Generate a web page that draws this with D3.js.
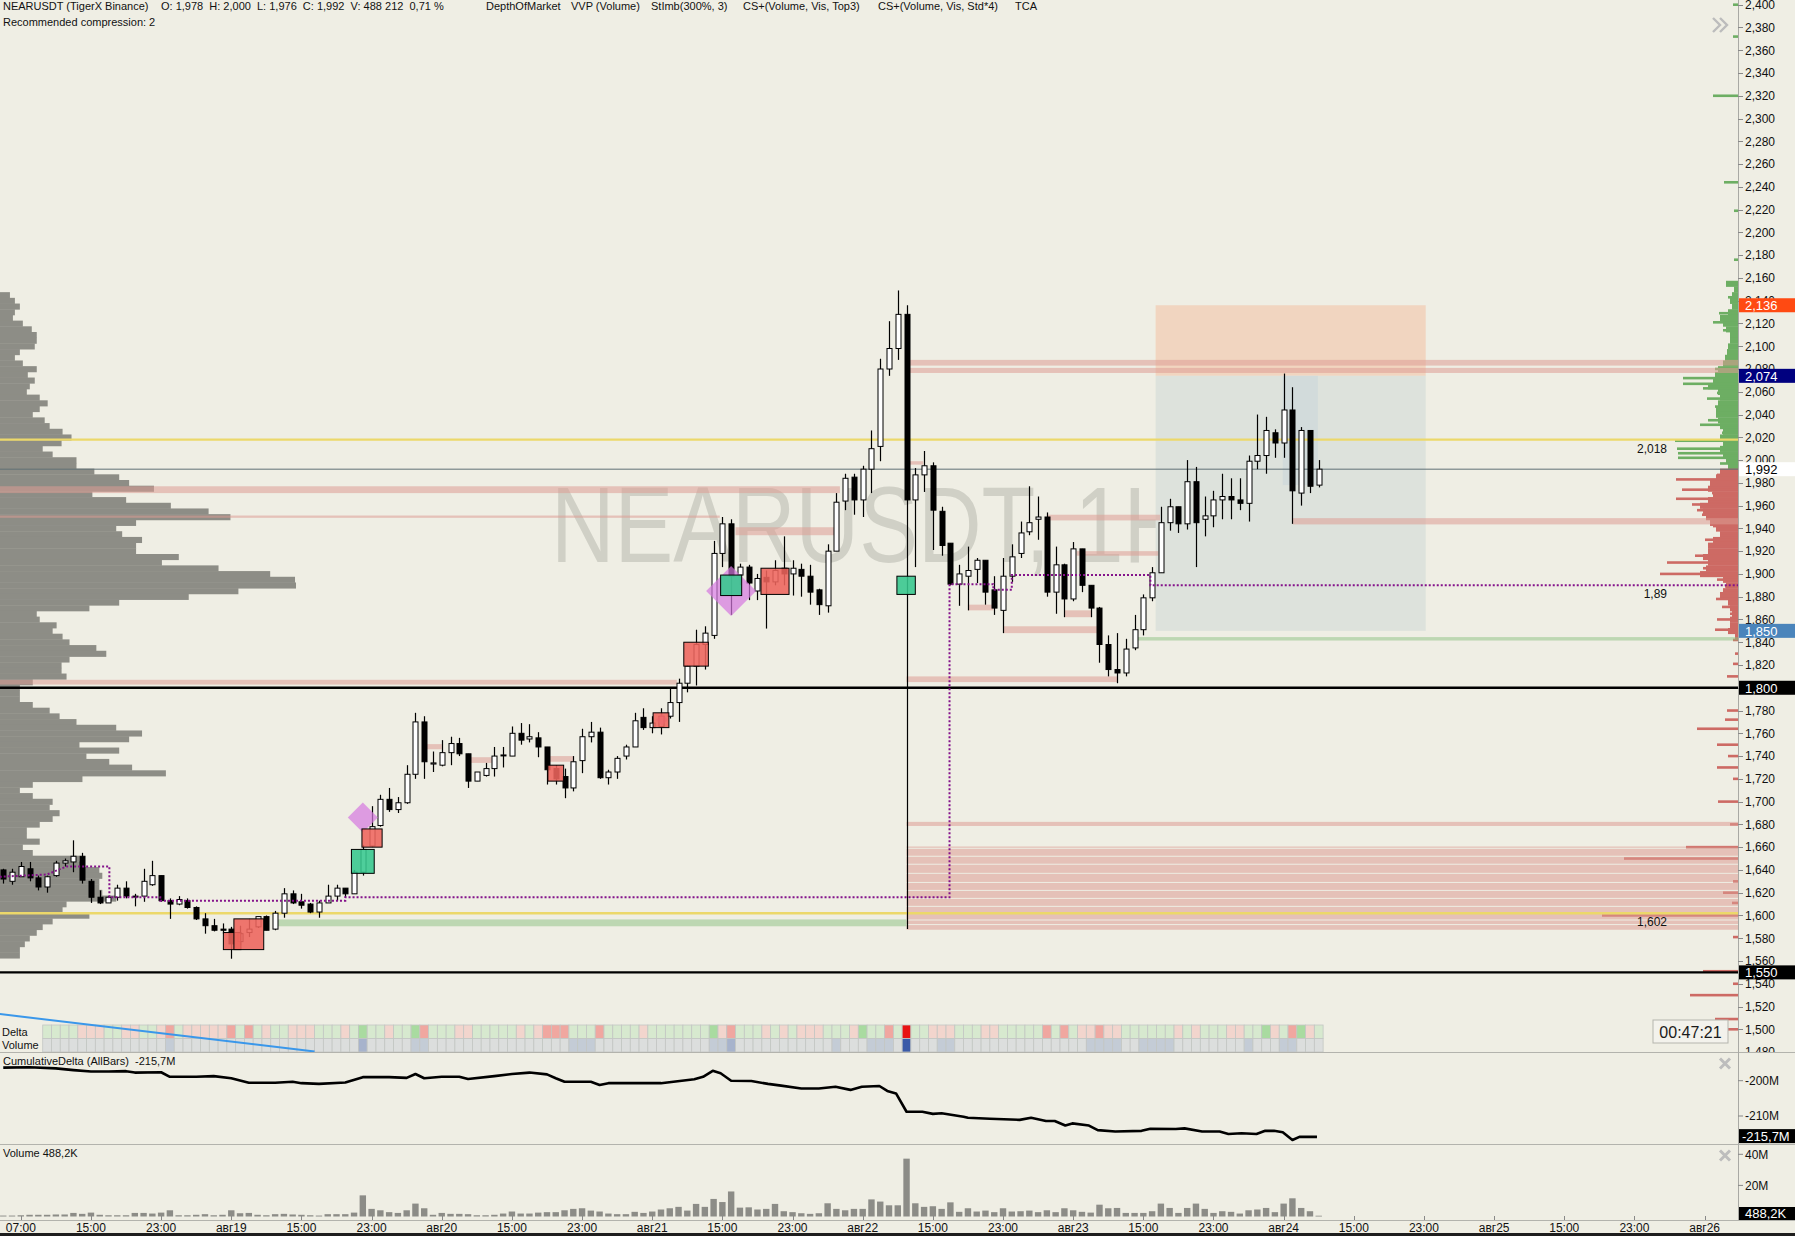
<!DOCTYPE html>
<html>
<head>
<meta charset="utf-8">
<title>NEARUSDT 1H</title>
<script src="https://cdn.jsdelivr.net/npm/d3@7/dist/d3.min.js"></script>
<style>
  html, body { margin: 0; padding: 0; background: #efeee4; overflow: hidden; }
  svg { display: block; font-family: "Liberation Sans", Arial, sans-serif; }
</style>
</head>
<body>
<div id="chart"></div>
<script>
// ---------------- data ----------------
// bar 0 = the "07:00" label of the first day, one bar per hour
var firstBar = -2;
var opens = [1.640,1.630,1.634,1.641,1.633,1.625,1.635,1.646,1.647,1.652,
  1.630,1.616,1.611,1.616,1.624,1.617,1.617,1.627,1.635,1.613,
  1.610,1.613,1.607,1.597,1.591,1.588,1.588,1.577,1.585,1.590,
  1.599,1.588,1.602,1.619,1.612,1.610,1.603,1.611,1.617,1.624,
  1.619,1.638,1.661,1.679,1.702,1.693,1.699,1.724,1.770,1.733,
  1.732,1.743,1.751,1.742,1.718,1.723,1.729,1.741,1.740,1.760,
  1.755,1.756,1.748,1.729,1.722,1.712,1.736,1.757,1.761,1.721,
  1.726,1.740,1.748,1.774,1.765,1.766,1.775,1.787,1.804,1.819,
  1.838,1.846,1.918,1.944,1.899,1.906,1.885,1.897,1.893,1.905,
  1.900,1.904,1.898,1.886,1.872,1.920,1.964,1.985,1.965,1.992,
  2.012,2.080,2.098,2.128,1.965,1.987,1.995,1.955,1.927,1.891,
  1.898,1.904,1.912,1.886,1.868,1.898,1.918,1.937,1.948,1.950,
  1.884,1.908,1.878,1.922,1.890,1.870,1.838,1.816,1.813,1.835,
  1.851,1.879,1.901,1.945,1.959,1.944,1.981,1.948,1.951,1.965,
  1.968,1.965,1.962,1.999,2.004,2.024,2.015,2.044,1.971,2.026,
  1.978];
var highs = [1.641,1.641,1.647,1.647,1.635,1.635,1.648,1.650,1.666,1.655,
  1.632,1.622,1.617,1.627,1.630,1.619,1.641,1.648,1.635,1.615,
  1.617,1.615,1.608,1.602,1.597,1.593,1.590,1.591,1.597,1.599,
  1.600,1.604,1.624,1.622,1.619,1.611,1.613,1.627,1.627,1.624,
  1.640,1.662,1.696,1.706,1.712,1.704,1.732,1.778,1.775,1.744,
  1.754,1.757,1.756,1.742,1.726,1.734,1.748,1.748,1.766,1.769,
  1.768,1.761,1.748,1.732,1.729,1.740,1.764,1.770,1.765,1.728,
  1.740,1.750,1.778,1.782,1.775,1.782,1.800,1.808,1.820,1.851,
  1.854,1.929,1.950,1.948,1.909,1.908,1.900,1.903,1.912,1.933,
  1.912,1.909,1.908,1.887,1.926,1.971,1.988,1.988,1.995,2.026,
  2.089,2.122,2.149,2.136,1.993,2.008,1.998,1.959,1.927,1.908,
  1.924,1.914,1.912,1.898,1.914,1.926,1.946,1.977,1.968,1.954,
  1.924,1.909,1.928,1.922,1.890,1.871,1.846,1.848,1.843,1.864,
  1.882,1.906,1.959,1.966,1.959,2.000,1.994,1.968,1.973,1.988,
  1.984,1.984,2.004,2.040,2.038,2.027,2.076,2.064,2.029,2.026,
  2.000];
var lows = [1.628,1.627,1.634,1.630,1.622,1.620,1.634,1.643,1.638,1.628,
  1.611,1.610,1.611,1.613,1.615,1.608,1.612,1.626,1.612,1.597,
  1.609,1.606,1.596,1.584,1.586,1.584,1.562,1.574,1.581,1.589,
  1.587,1.587,1.598,1.610,1.606,1.602,1.598,1.611,1.613,1.616,
  1.619,1.635,1.660,1.678,1.691,1.690,1.698,1.720,1.720,1.726,
  1.731,1.732,1.740,1.712,1.718,1.722,1.722,1.730,1.740,1.750,
  1.752,1.739,1.715,1.715,1.703,1.709,1.725,1.752,1.720,1.715,
  1.720,1.737,1.748,1.763,1.760,1.759,1.773,1.770,1.796,1.802,
  1.816,1.843,1.906,1.864,1.890,1.877,1.877,1.852,1.890,1.890,
  1.881,1.880,1.873,1.864,1.866,1.920,1.956,1.952,1.950,1.971,
  1.999,2.074,2.088,1.588,1.906,1.972,1.921,1.916,1.890,1.872,
  1.868,1.892,1.873,1.864,1.848,1.893,1.914,1.934,1.930,1.880,
  1.865,1.862,1.876,1.884,1.862,1.822,1.810,1.804,1.810,1.833,
  1.846,1.876,1.901,1.938,1.936,1.939,1.906,1.933,1.941,1.948,
  1.948,1.956,1.946,1.992,1.988,2.002,2.002,1.944,1.960,1.971,
  1.976];
var closes = [1.632,1.638,1.643,1.633,1.625,1.634,1.646,1.648,1.652,1.631,
  1.616,1.611,1.616,1.624,1.617,1.617,1.630,1.635,1.613,1.610,
  1.614,1.607,1.597,1.591,1.587,1.587,1.575,1.584,1.588,1.599,
  1.587,1.602,1.619,1.611,1.609,1.603,1.611,1.617,1.624,1.619,
  1.638,1.658,1.678,1.702,1.693,1.699,1.724,1.770,1.735,1.734,
  1.743,1.751,1.742,1.718,1.726,1.729,1.740,1.741,1.760,1.754,
  1.757,1.748,1.728,1.720,1.712,1.735,1.757,1.761,1.721,1.726,
  1.738,1.748,1.771,1.765,1.769,1.775,1.787,1.804,1.819,1.838,
  1.848,1.918,1.944,1.898,1.906,1.892,1.896,1.893,1.903,1.900,
  1.905,1.898,1.884,1.873,1.920,1.963,1.984,1.965,1.992,2.010,
  2.080,2.098,2.128,1.965,1.987,1.995,1.956,1.925,1.891,1.900,
  1.903,1.912,1.884,1.870,1.898,1.915,1.936,1.945,1.950,1.884,
  1.908,1.878,1.922,1.890,1.870,1.838,1.816,1.813,1.834,1.851,
  1.879,1.901,1.945,1.959,1.944,1.981,1.945,1.951,1.965,1.968,
  1.965,1.962,1.999,2.004,2.026,2.015,2.044,1.973,2.026,1.977,
  1.992];
// volume per bar, millions
var volumes = [0.6,0.6,0.8,1.1,1.1,1.1,1.3,1.3,2.3,1.7,
  2.5,1.1,0.8,0.8,0.8,2.3,2.3,1.9,2.5,4.0,
  0.8,0.8,1.1,1.5,0.8,1.1,4.0,2.1,2.3,1.1,
  0.8,1.5,1.7,1.3,1.1,0.8,0.6,1.5,1.5,1.5,
  2.5,13.6,4.9,4.0,2.8,2.3,4.0,8.3,5.3,1.1,
  2.3,1.7,1.7,1.5,0.8,0.8,1.1,1.9,3.2,1.9,
  1.9,2.5,2.8,2.8,4.0,4.9,5.3,3.8,3.2,1.9,
  1.5,1.5,3.0,2.3,3.2,4.5,5.3,6.2,3.8,8.1,
  6.2,11.3,9.3,16.1,5.7,5.9,4.5,4.9,8.1,3.4,
  2.8,2.1,1.7,2.1,8.5,4.9,4.0,4.9,4.9,11.0,
  9.6,7.2,7.2,37.2,8.5,6.2,6.6,4.9,9.1,3.0,
  5.3,3.2,3.8,2.8,5.3,3.2,3.4,3.8,2.8,4.0,
  2.8,5.3,4.0,3.0,2.5,7.6,5.3,5.5,2.3,2.3,
  2.3,3.4,8.3,5.5,2.3,5.5,8.3,4.9,2.3,3.4,
  3.0,1.9,4.0,4.5,5.5,2.8,8.3,11.7,5.5,3.4,
  0.5];

// Delta / Volume heat rows, one letter per bar starting at gridFirstBar
var gridFirstBar = 3;
var deltaCodes = "ggggrrrggr" + "rggrRgrrrr" + "rRgRgrggrr" + "rgggrgGggr" + "ggGRgggrrg" +
  "ggggrgrRRR" + "gggRggggrg" + "ggggggGrRg" + "ggrgrgrrrg" + "ggrGggRgXg" +
  "grrrgggrrg" + "ggggRgRgrr" + "Rrrggggggr" + "grgggrrggG" + "rgRGrg";
var volumeCodes = "nnnnnnnnnn" + "nnnnbnnnnn" + "nnnnnnnnnn" + "nnnnnnBnnn" + "nnbbnnnnnn" +
  "nnnnnnnnnn" + "bbbnnnnnnn" + "nnnnnnbbBn" + "nnnnnnnnnn" + "bnnnbbbnDn" +
  "nnbbnnnnnn" + "nnnnnnnnnb" + "bbbnnbbbbn" + "nnnnnnnbnn" + "nbbnnn";

// cumulative delta (millions), read at these bar positions
var cdBars = [-2,1,4,6,8,10,12,13,16,17,20,22,24,26,29,31,32,34,37,39,
  42,44,45,46,48,50,51,54,56,58,60,61,62,65,66,67,70,
  73,76.8,77.8,78.9,79.8,81,83.3,85.2,86.7,89,91,92.9,94.6,95.9,97.9,98.8,99.8,101,102.8,104,
  105,107.5,108,110.5,113.9,115.2,116.9,117.9,119.1,119.9,121.8,122.8,124.8,127.8,128.8,131.7,132.7,134.7,136.7,137.7,
  139.2,140.9,141.9,142.9,143.9,145,145.8,147.8];
var cdValues = [-196.3,-196.2,-196.5,-197.0,-197.4,-197.4,-197.3,-197.7,-197.6,-198.9,
  -198.9,-198.7,-199.3,-200.6,-200.6,-200.3,-200.7,-200.9,-200.5,-199.0,
  -199.0,-199.2,-198.1,-199.3,-198.9,-198.9,-199.5,-198.7,-198.1,-197.7,
  -198.2,-199.3,-200.3,-200.3,-201.2,-200.7,-200.7,
  -200.7,-199.6,-198.9,-197.2,-197.9,-200.0,-200.1,-200.9,-201.4,-202.2,
  -202.2,-201.7,-202.6,-201.7,-201.5,-202.9,-203.6,-208.8,-208.8,-209.4,
  -209.2,-210.2,-210.5,-210.8,-211.1,-210.5,-211.4,-211.4,-212.7,-212.1,
  -212.7,-214.0,-214.4,-214.2,-213.6,-213.7,-213.5,-214.4,-214.4,-215.1,
  -214.9,-215.1,-214.2,-214.2,-214.6,-216.8,-215.9,-215.9];

// VVP volume profile on the left, rows from profileTop down by profileStep
var profileTop = 2.145, profileStep = 0.005;
var profileVolumes = [10,15,20,15,13,23,32,37,37,35, 20,15,23,37,28,35,30,27,40,48,
  40,33,45,50,63,72,62,43,53,77, 77,95,120,130,155,93,127,172,210,232,
  137,117,123,143,137,137,180,163,220,272, 297,298,240,190,120,90,37,40,57,53,
  63,70,97,107,70,62,62,67,33,20, 20,20,33,50,60,77,117,143,130,80,
  120,87,110,133,167,83,33,20,33,53, 50,60,53,40,27,27,40,23,33,80,
  83,100,103,100,100,103,117,67,63,90, 53,43,37,30,25,20,20];

// depth of market on the right: dense body + single big orders
var domBaseTop = 2.155;
var domBaseSizes = [12,4,6,8,6,10,18,15,12,8, 8,10,11,13,15,20,23,25,30,20,
  18,20,22,22,20,18,15,18,15,18, 15,12,10,
  18,22,28,30,25,30,38, 35,32,28,22,18,25,30,30,35,30,
  32,38,15,12,15,18,10,8,6,8, 8,10,3];
var domPrices = [2.400,2.372,2.320,2.244,2.219,2.176,2.155,2.143,2.129,2.121,2.114,2.088,2.080,2.072,
  2.067,2.063,2.059,2.054,2.047,2.041,2.035,2.031,2.024,2.017,2.010,2.006,2.002,1.997,
  1.987,1.983,1.976,1.974,1.971,1.966,1.961,1.956,1.952,1.947,1.942,1.936,1.930,1.924,1.916,1.910,
  1.905,1.900,1.895,1.889,1.883,1.878,1.871,1.865,1.860,1.851,1.842,1.830,1.821,1.810,1.780,1.772,
  1.764,1.750,1.740,1.730,1.720,1.700,1.680,1.660,1.650,1.630,1.620,1.611,1.600,1.581,1.551,1.540,
  1.530,1.509,1.500];
var domSizes = [5,5,25,14,4,4,12,10,19,25,15,13,23,55,
  55,35,21,31,23,18,30,38,16,63,61,60,60,18,
  21,62,28,56,26,62,46,41,36,28,25,18,33,28,43,71,
  35,78,21,13,18,22,16,8,21,23,5,3,5,11,11,13,
  41,21,10,21,5,20,8,52,114,5,15,6,136,5,35,5,
  48,23,10];

// cluster search levels (pink) and green levels: price span and bar span
var pinkHi   = [2.088,2.081,1.977,1.9513,1.941,1.807,1.7505,1.739,1.740,1.952,1.920,1.873,1.868,1.854,1.810,1.999,1.949,1.6822];
var pinkLo   = [2.083,2.0765,1.971,1.9493,1.934,1.8028,1.746,1.734,1.735,1.947,1.916,1.868,1.862,1.848,1.805,1.996,1.9435,1.6786];
var pinkFrom = [101,101,-3,-3,81.5,-3,46.1,51.2,60.3,117,120.4,108,119,112,101,101,145,101];
var pinkTo   = [200,200,93.4,79.7,92.8,74.8,48,53.7,63,129.9,129.7,110.9,122.1,122.7,125,102.9,200,200];
var blockEdges = [1.661,1.659,1.652,1.645,1.637,1.629,1.622,1.615,1.608,1.602,1.596,1.592,1.587];
var blockFrom = 101;
var greenHi = [1.5965,1.8445], greenLo = [1.5905,1.8415], greenFrom = [29.2,127.2], greenTo = [101,200];

var lastPrice = 1.992;
var yellowLevels = [2.018, 1.602];
var blackLevels = [1.800, 1.550];

// trade tool: stop / entry / target
var tcaStartBar = 129.4, tcaEndBar = 160.2;
var tcaStop = 2.136, tcaEntry = 2.074, tcaTarget = 1.850;
var tcaFillBar0 = 143.9, tcaFillBar1 = 147.9, tcaFillLow = 1.978;

// dotted step line (TCA average)
var stepBars   = [-2.4,3,5.2,10.1,10.1,15.9,15.9,37,37,105.9,105.9,110.9,110.9,113,113,128.8,128.8,200];
var stepPrices = [1.634,1.636,1.643,1.643,1.616,1.616,1.613,1.613,1.616,1.616,1.891,1.891,1.886,1.886,1.899,1.899,1.890,1.890];

// stacked imbalance boxes
var boxFrom = [23.1,24.3,37.7,38.9,60.1,72.1,75.6,79.8,84.4,99.9];
var boxTo   = [25.1,27.7,40.3,41.2,61.9,73.9,78.4,82.2,87.6,102.0];
var boxLow  = [1.570,1.570,1.637,1.660,1.718,1.765,1.819,1.881,1.882,1.882];
var boxHigh = [1.585,1.597,1.658,1.676,1.732,1.778,1.840,1.899,1.905,1.898];
var boxSide = ["sell","sell","buy","sell","sell","sell","sell","buy","sell","buy"];
var diamondBars = [39.0,81.0,73.1], diamondPrices = [1.686,1.885,1.772], diamondVolume = [150,250,60];

// hand drawn trend line
var trendBars = [-2.4, 33.5], trendPrices = [1.5134, 1.4805];

var levelTexts = [["2,018", 2.018], ["1,89", 1.890], ["1,602", 1.602]];
var badges = [[2.136,"#ff4a12","#ffffff"],[2.074,"#00007f","#ffffff"],[1.992,"#ffffff","#000000"],
  [1.850,"#4a84bb","#ffffff"],[1.800,"#000000","#ffffff"],[1.550,"#000000","#ffffff"]];

var timeLabels = ["07:00","15:00","23:00","авг19","15:00","23:00","авг20","15:00","23:00","авг21",
  "15:00","23:00","авг22","15:00","23:00","авг23","15:00","23:00","авг24","15:00","23:00","авг25",
  "15:00","23:00","авг26"];
var labelEvery = 8;
var cdTicks = [-200, -210], volTicks = [20, 40];

// ---------------- layout ----------------
var width = 1795, height = 1236;
var axisX = 1738;
var mainBottom = 1052, cdBottom = 1144, volBottom = 1220;

var x = d3.scaleLinear().domain([0, 192]).range([20.8, 1704.6]);
var y = d3.scaleLinear().domain([2.4, 1.5]).range([4.7, 1029.3]);
var yCd = d3.scaleLinear().domain([-200, -210]).range([1080.7, 1116]);
var yVol = d3.scaleLinear().domain([0, 40]).range([1216.5, 1154.3]);
var wProf = d3.scaleLinear().domain([0, 300]).range([0, 298]);
var wDom = d3.scaleLinear().domain([0, 100]).range([0, 100]);
var rDiamond = d3.scaleLinear().domain([0, 250]).range([0, 25]);
var fmt = function (v) { return d3.format(".3f")(v).replace(".", ","); };
var barW = x(1) - x(0);

var bars = opens.map(function (o, k) {
  return { i: firstBar + k, o: o, h: highs[k], l: lows[k], c: closes[k], v: volumes[k] };
});

var svg = d3.select("#chart").append("svg").attr("width", width).attr("height", height);
svg.append("rect").attr("width", width).attr("height", height).attr("fill", "#efeee4");

var defs = svg.append("defs");
function clip(id, x0, y0, w, h) {
  defs.append("clipPath").attr("id", id).append("rect")
    .attr("x", x0).attr("y", y0).attr("width", w).attr("height", h);
}
clip("clipMain", 0, 0, axisX, mainBottom);
clip("clipCd", 0, mainBottom, axisX, cdBottom - mainBottom);
clip("clipVol", 0, cdBottom, axisX, volBottom - cdBottom);
clip("clipAxis", axisX, 0, width - axisX, mainBottom);

var main = svg.append("g").attr("clip-path", "url(#clipMain)");

// watermark
main.append("text").attr("x", 551).attr("y", 562)
  .attr("textLength", 636).attr("lengthAdjust", "spacingAndGlyphs")
  .attr("font-size", 107).attr("fill", "#d0d0c6").text("NEARUSDT, 1H");

// trade tool rectangles
main.append("rect").attr("x", x(tcaStartBar)).attr("width", x(tcaEndBar) - x(tcaStartBar))
  .attr("y", y(tcaStop)).attr("height", y(tcaEntry) - y(tcaStop)).attr("fill", "#f1d5c0");
main.append("rect").attr("x", x(tcaStartBar)).attr("width", x(tcaEndBar) - x(tcaStartBar))
  .attr("y", y(tcaEntry)).attr("height", y(tcaTarget) - y(tcaEntry)).attr("fill", "#dde2dc");
main.append("rect").attr("x", x(tcaFillBar0)).attr("width", x(tcaFillBar1) - x(tcaFillBar0))
  .attr("y", y(tcaEntry)).attr("height", y(tcaFillLow) - y(tcaEntry)).attr("fill", "#d2dbdb");

// left volume profile
var rowH = y(2.4 - profileStep) - y(2.4);
main.selectAll(".prof").data(profileVolumes).enter().append("rect")
  .attr("x", 0)
  .attr("y", function (v, k) { return y(profileTop - k * profileStep + profileStep / 2); })
  .attr("width", function (v) { return wProf(v); })
  .attr("height", rowH + 0.4)
  .attr("fill", "#8d8d86");

// depth of market
main.selectAll(".dombase").data(domBaseSizes).enter().append("rect")
  .attr("x", function (v) { return axisX - wDom(v); })
  .attr("y", function (v, k) { return y(domBaseTop - k * profileStep + profileStep / 2); })
  .attr("width", function (v) { return wDom(v); })
  .attr("height", rowH + 0.4)
  .attr("fill", function (v, k) { return domBaseTop - k * profileStep > lastPrice ? "#6dae63" : "#cd6a64"; });
main.selectAll(".dom").data(domPrices).enter().append("rect")
  .attr("x", function (p, k) { return axisX - wDom(domSizes[k]); })
  .attr("y", function (p) { return y(p) - 1.3; })
  .attr("width", function (p, k) { return wDom(domSizes[k]); })
  .attr("height", 2.6)
  .attr("fill", function (p) { return p > lastPrice ? "#6dae63" : "#cd6a64"; });

// cluster levels
main.selectAll(".pink").data(pinkHi).enter().append("rect")
  .attr("x", function (p, k) { return x(pinkFrom[k]); })
  .attr("width", function (p, k) { return x(pinkTo[k]) - x(pinkFrom[k]); })
  .attr("y", function (p) { return y(p); })
  .attr("height", function (p, k) { return Math.max(1.5, y(pinkLo[k]) - y(p)); })
  .attr("fill", "#dc9c94").attr("opacity", 0.55);
main.selectAll(".block").data(blockEdges.slice(0, -1)).enter().append("rect")
  .attr("x", x(blockFrom)).attr("width", x(200) - x(blockFrom))
  .attr("y", function (p) { return y(p) + 0.5; })
  .attr("height", function (p, k) { return Math.max(1, y(blockEdges[k + 1]) - y(p) - 1); })
  .attr("fill", "#dc9c94").attr("opacity", 0.55);
main.selectAll(".green").data(greenHi).enter().append("rect")
  .attr("x", function (p, k) { return x(greenFrom[k]); })
  .attr("width", function (p, k) { return x(greenTo[k]) - x(greenFrom[k]); })
  .attr("y", function (p) { return y(p); })
  .attr("height", function (p, k) { return y(greenLo[k]) - y(p); })
  .attr("fill", "#8cc080").attr("opacity", 0.5);

// horizontal levels
main.selectAll(".ylev").data(yellowLevels).enter().append("line")
  .attr("x1", 0).attr("x2", axisX).attr("y1", y).attr("y2", y)
  .attr("stroke", "#ecd86a").attr("stroke-width", 2.4);
main.append("line").attr("x1", 0).attr("x2", axisX).attr("y1", y(lastPrice)).attr("y2", y(lastPrice))
  .attr("stroke", "#5f6f75").attr("stroke-width", 1);
main.selectAll(".blev").data(blackLevels).enter().append("line")
  .attr("x1", 0).attr("x2", axisX).attr("y1", y).attr("y2", y)
  .attr("stroke", "#000").attr("stroke-width", 2.4);

// Delta / Volume rows
var gridTop = 1025, gridMid = 1038.5;
var deltaColor = { g: "#d7e9cf", G: "#a9dba0", r: "#f2d5cd", R: "#f0a7a0", X: "#e81313" };
var volColor = { n: "#dcdedd", b: "#c4ccd6", B: "#a7b3cc", D: "#3a5aa8" };
var gridBars = deltaCodes.split("").map(function (c, k) { return gridFirstBar + k; });
main.selectAll(".dcell").data(gridBars).enter().append("rect")
  .attr("x", function (i) { return x(i) - barW / 2; }).attr("width", barW)
  .attr("y", gridTop).attr("height", gridMid - gridTop)
  .attr("fill", function (i, k) { return deltaColor[deltaCodes[k]]; })
  .attr("stroke", "#c3c6c3").attr("stroke-width", 0.8);
main.selectAll(".vcell").data(gridBars).enter().append("rect")
  .attr("x", function (i) { return x(i) - barW / 2; }).attr("width", barW)
  .attr("y", gridMid).attr("height", mainBottom - gridMid)
  .attr("fill", function (i, k) { return volColor[volumeCodes[k]]; })
  .attr("stroke", "#c3c6c3").attr("stroke-width", 0.8);
main.append("text").attr("x", 2).attr("y", 1035.5).attr("font-size", 11).attr("fill", "#111").text("Delta");
main.append("text").attr("x", 2).attr("y", 1049).attr("font-size", 11).attr("fill", "#111").text("Volume");

// trend line
main.append("line")
  .attr("x1", x(trendBars[0])).attr("y1", y(trendPrices[0]))
  .attr("x2", x(trendBars[1])).attr("y2", y(trendPrices[1]))
  .attr("stroke", "#3a97ea").attr("stroke-width", 2);

// candles
main.selectAll(".wick").data(bars).enter().append("line")
  .attr("x1", function (d) { return Math.round(x(d.i)) + 0.5; })
  .attr("x2", function (d) { return Math.round(x(d.i)) + 0.5; })
  .attr("y1", function (d) { return y(d.h); })
  .attr("y2", function (d) { return y(d.l); })
  .attr("stroke", "#000").attr("stroke-width", 1.2);
main.selectAll(".body").data(bars).enter().append("rect")
  .attr("x", function (d) { return Math.round(x(d.i)) - 2; })
  .attr("width", 5)
  .attr("y", function (d) { return y(Math.max(d.o, d.c)); })
  .attr("height", function (d) { return Math.max(1, Math.abs(y(d.o) - y(d.c))); })
  .attr("fill", function (d) { return d.c >= d.o ? "#ffffff" : "#000000"; })
  .attr("stroke", "#000").attr("stroke-width", 1);

// dotted step line
var stepLine = d3.line()
  .x(function (d) { return x(d[0]); })
  .y(function (d) { return y(d[1]); });
main.append("path").datum(stepBars.map(function (b, k) { return [b, stepPrices[k]]; }))
  .attr("d", stepLine).attr("fill", "none")
  .attr("stroke", "#84128a").attr("stroke-width", 2).attr("stroke-dasharray", "2,2");

// diamonds and imbalance boxes
main.selectAll(".dia").data(diamondBars).enter().append("path")
  .attr("d", function (b, k) {
    var cx = x(b), cy = y(diamondPrices[k]), r = rDiamond(diamondVolume[k]);
    return "M" + cx + "," + (cy - r) + "L" + (cx + r) + "," + cy + "L" + cx + "," + (cy + r) + "L" + (cx - r) + "," + cy + "Z";
  })
  .attr("fill", "#d677df").attr("opacity", 0.7);
main.selectAll(".box").data(boxFrom).enter().append("rect")
  .attr("x", function (b) { return x(b); })
  .attr("width", function (b, k) { return x(boxTo[k]) - x(b); })
  .attr("y", function (b, k) { return y(boxHigh[k]); })
  .attr("height", function (b, k) { return y(boxLow[k]) - y(boxHigh[k]); })
  .attr("fill", function (b, k) { return boxSide[k] === "buy" ? "#35c78d" : "#ee645c"; })
  .attr("fill-opacity", 0.88)
  .attr("stroke", "#000").attr("stroke-width", 1);

// level value labels
main.selectAll(".lvl").data(levelTexts).enter().append("text")
  .attr("x", 1667).attr("y", function (d) { return y(d[1]) + 13; })
  .attr("text-anchor", "end").attr("font-size", 12).attr("fill", "#111")
  .text(function (d) { return d[0]; });

// chart header
var header = [["NEARUSDT (TigerX Binance)", 3], ["O: 1,978  H: 2,000  L: 1,976  C: 1,992  V: 488 212  0,71 %", 161],
  ["DepthOfMarket", 486], ["VVP (Volume)", 571], ["StImb(300%, 3)", 651],
  ["CS+(Volume, Vis, Top3)", 743], ["CS+(Volume, Vis, Std*4)", 878], ["TCA", 1015]];
svg.selectAll(".hdr").data(header).enter().append("text")
  .attr("x", function (d) { return d[1]; }).attr("y", 10)
  .attr("font-size", 11).attr("fill", "#111").style("white-space", "pre")
  .text(function (d) { return d[0]; });
svg.append("text").attr("x", 3).attr("y", 26).attr("font-size", 11).attr("fill", "#111")
  .text("Recommended compression: 2");

// chevron and bar timer
svg.append("path").attr("d", "M1713,18 L1720,25 L1713,32 M1720,18 L1727,25 L1720,32")
  .attr("fill", "none").attr("stroke", "#bcbcbc").attr("stroke-width", 2.4);
svg.append("rect").attr("x", 1653).attr("y", 1020).attr("width", 75).attr("height", 23)
  .attr("fill", "#f3f2ec").attr("stroke", "#b5b5ae");
svg.append("text").attr("x", 1690.5).attr("y", 1037.5).attr("text-anchor", "middle")
  .attr("font-size", 16).attr("fill", "#1a1a1a").text("00:47:21");

// cumulative delta panel
var cdLine = d3.line()
  .x(function (d) { return x(d[0]); })
  .y(function (d) { return yCd(d[1]); });
svg.append("g").attr("clip-path", "url(#clipCd)").append("path")
  .datum(cdBars.map(function (b, k) { return [b, cdValues[k]]; }))
  .attr("d", cdLine).attr("fill", "none").attr("stroke", "#000").attr("stroke-width", 2.6)
  .attr("stroke-linejoin", "round");
svg.append("text").attr("x", 3).attr("y", 1065).attr("font-size", 11).attr("fill", "#111")
  .style("white-space", "pre").text("CumulativeDelta (AllBars)  -215,7M");

// volume panel
svg.append("g").attr("clip-path", "url(#clipVol)").selectAll(".vol").data(bars).enter().append("rect")
  .attr("x", function (d) { return x(d.i) - 3.2; }).attr("width", 6.4)
  .attr("y", function (d) { return yVol(d.v); })
  .attr("height", function (d) { return yVol(0) - yVol(d.v); })
  .attr("fill", "#8c8c87");
svg.append("text").attr("x", 3).attr("y", 1157).attr("font-size", 11).attr("fill", "#111")
  .style("white-space", "pre").text("Volume 488,2K");

// close icons
[1063.5, 1155.5].forEach(function (cy) {
  svg.append("path").attr("d", "M1720," + (cy - 5) + " L1730," + (cy + 5) + " M1730," + (cy - 5) + " L1720," + (cy + 5))
    .attr("stroke", "#bdbdbd").attr("stroke-width", 3);
});

// separators and axis line
[mainBottom, cdBottom, volBottom].forEach(function (ly) {
  svg.append("line").attr("x1", 0).attr("x2", width).attr("y1", ly + 0.5).attr("y2", ly + 0.5)
    .attr("stroke", "#b3b3ad").attr("stroke-width", 1);
});
svg.append("line").attr("x1", axisX + 0.5).attr("x2", axisX + 0.5).attr("y1", 0).attr("y2", volBottom)
  .attr("stroke", "#a9a9a4").attr("stroke-width", 1);

// price axis
var priceAxis = svg.append("g").attr("clip-path", "url(#clipAxis)");
var priceTicks = d3.range(1.48, 2.4001, 0.02);
priceAxis.selectAll(".pt").data(priceTicks).enter().append("line")
  .attr("x1", axisX).attr("x2", axisX + 5).attr("y1", function (p) { return Math.round(y(p)) + 0.5; })
  .attr("y2", function (p) { return Math.round(y(p)) + 0.5; }).attr("stroke", "#888");
priceAxis.selectAll(".pl").data(priceTicks).enter().append("text")
  .attr("x", axisX + 7).attr("y", function (p) { return y(p) + 4.3; })
  .attr("font-size", 12).attr("fill", "#111").text(fmt);
var badge = priceAxis.selectAll(".badge").data(badges).enter().append("g");
badge.append("rect").attr("x", axisX + 1).attr("width", width - axisX - 1)
  .attr("y", function (d) { return y(d[0]) - 7; }).attr("height", 14)
  .attr("fill", function (d) { return d[1]; });
badge.append("text").attr("x", axisX + 7).attr("y", function (d) { return y(d[0]) + 4.8; })
  .attr("font-size", 13).attr("fill", function (d) { return d[2]; })
  .text(function (d) { return fmt(d[0]); });

// sub-panel axes
svg.selectAll(".cdt").data(cdTicks).enter().append("text")
  .attr("x", axisX + 7).attr("y", function (v) { return yCd(v) + 4.3; })
  .attr("font-size", 12).attr("fill", "#111").text(function (v) { return v + "M"; });
svg.selectAll(".cdk").data(cdTicks).enter().append("line")
  .attr("x1", axisX).attr("x2", axisX + 5).attr("y1", yCd).attr("y2", yCd).attr("stroke", "#888");
svg.append("rect").attr("x", axisX + 1).attr("y", yCd(-215.7) - 7).attr("width", width - axisX - 1).attr("height", 14).attr("fill", "#000");
svg.append("text").attr("x", axisX + 4).attr("y", yCd(-215.7) + 4.8).attr("font-size", 13).attr("fill", "#fff").text("-215,7M");
svg.selectAll(".vt").data(volTicks).enter().append("text")
  .attr("x", axisX + 7).attr("y", function (v) { return yVol(v) + 4.3; })
  .attr("font-size", 12).attr("fill", "#111").text(function (v) { return v + "M"; });
svg.selectAll(".vk").data(volTicks).enter().append("line")
  .attr("x1", axisX).attr("x2", axisX + 5).attr("y1", yVol).attr("y2", yVol).attr("stroke", "#888");
svg.append("rect").attr("x", axisX + 1).attr("y", 1207).attr("width", width - axisX - 1).attr("height", 13).attr("fill", "#000");
svg.append("text").attr("x", axisX + 7).attr("y", 1218).attr("font-size", 13).attr("fill", "#fff").text("488,2K");

// time axis
svg.selectAll(".tt").data(timeLabels).enter().append("line")
  .attr("x1", function (t, k) { return Math.round(x(k * labelEvery)) + 0.5; })
  .attr("x2", function (t, k) { return Math.round(x(k * labelEvery)) + 0.5; })
  .attr("y1", volBottom - 4).attr("y2", volBottom).attr("stroke", "#888");
svg.selectAll(".tl").data(timeLabels).enter().append("text")
  .attr("x", function (t, k) { return x(k * labelEvery); }).attr("y", 1232)
  .attr("text-anchor", "middle").attr("font-size", 12).attr("fill", "#111")
  .text(function (t) { return t; });
svg.append("rect").attr("x", 0).attr("y", 1233).attr("width", width).attr("height", 3).attr("fill", "#1e1e1e");
</script>
</body>
</html>
